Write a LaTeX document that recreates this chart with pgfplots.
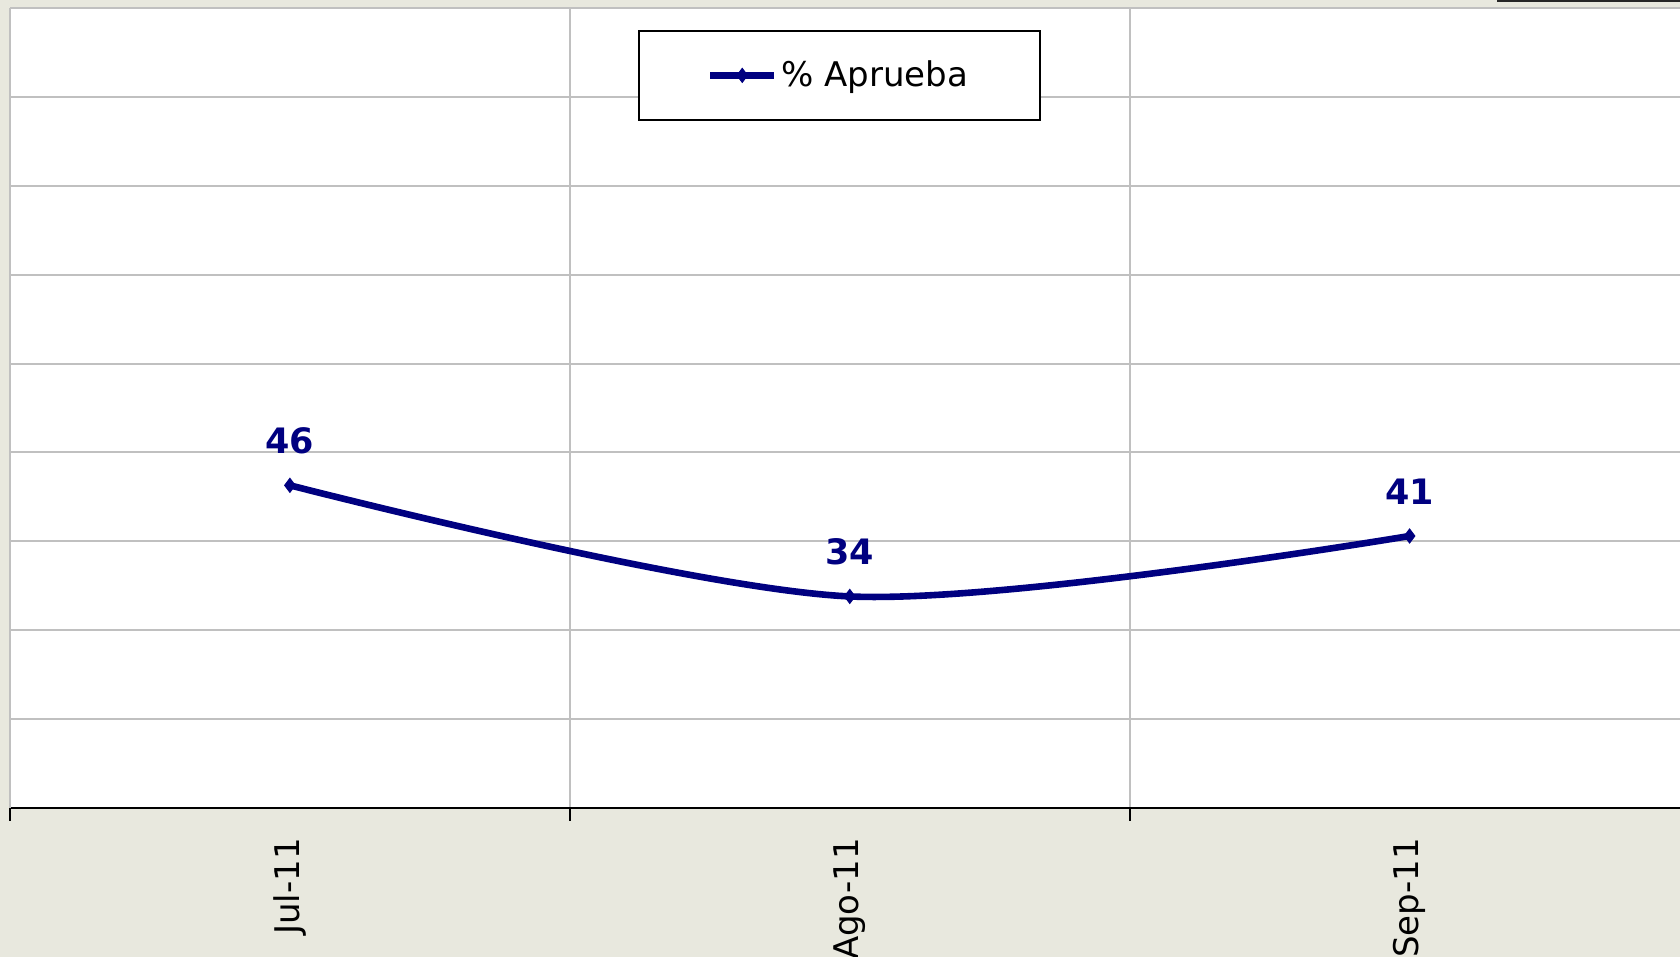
\documentclass[border=0pt]{standalone}
\usepackage{pgfplots}
\pgfplotsset{compat=1.18}
\usepackage{fontspec}
\setmainfont{DejaVu Sans}
\definecolor{bg}{RGB}{232,232,222}
\definecolor{navy}{RGB}{0,0,128}
\definecolor{gridgray}{RGB}{192,192,192}
\begin{document}
\begin{tikzpicture}
\useasboundingbox (0,0) rectangle (840pt,478.5pt);
\fill[bg] (0,0) rectangle (840pt,478.5pt);
\fill[black!85] (748.5pt,477.5pt) rectangle (840pt,478.5pt);
\begin{axis}[
  at={(5pt,74.5pt)}, anchor=south west,
  scale only axis, width=835pt, height=400pt,
  xmin=-0.5, xmax=2.483, ymin=10, ymax=100,
  axis background/.style={fill=white},
  axis x line=bottom, axis y line=left,
  x axis line style={-, black, line width=1pt},
  y axis line style={-, gridgray, line width=1pt},
  xtick={0,1,2}, xticklabels={Jul-11,Ago-11,Sep-11},
  minor xtick={-0.5,0.5,1.5,2.5},
  ytick={10,20,...,100}, yticklabels={},
  major tick length=0pt, minor tick length=6.5pt, tick align=outside,
  minor tick style={black, line width=1pt},
  xminorgrids=true, ymajorgrids=true, xmajorgrids=false,
  grid style={gridgray, line width=1pt},
  minor grid style={gridgray, line width=1pt},
  xticklabel style={rotate=90, anchor=east, font=\fontsize{17}{20}\selectfont},
  xticklabel shift=11.5pt,
  legend style={at={(0.376,0.9725)}, anchor=north west, draw=black, line width=1pt,
    inner xsep=34pt, inner ysep=13pt, font=\fontsize{17}{20}\selectfont},
  legend image code/.code={\draw[mark repeat=2,mark phase=2] plot coordinates {(0pt,0pt) (16pt,0pt) (32pt,0pt)};},
]
\addplot[navy, line width=3.3pt, smooth, tension=0.5, mark=diamond*, mark size=3.5pt,
  mark options={solid, fill=navy, line width=0.5pt},
  nodes near coords, point meta=explicit symbolic,
  every node near coord/.append style={font=\fontsize{17.5}{20}\selectfont\bfseries, text=navy, yshift=12pt}]
  coordinates {(0,46.3) [46] (1,33.8) [34] (2,40.6) [41]};
\addlegendentry{\% Aprueba}
\end{axis}
\end{tikzpicture}
\end{document}
